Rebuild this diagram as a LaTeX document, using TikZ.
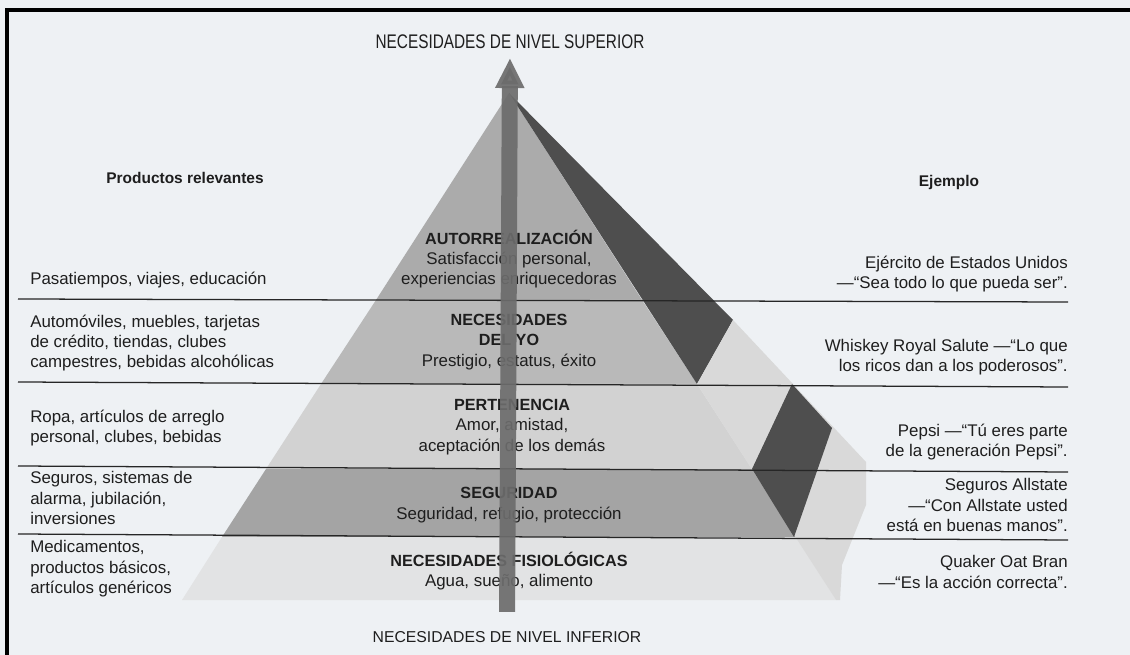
\documentclass[tikz,border=0pt]{standalone}
\usepackage{fontspec}
\setmainfont{Liberation Sans}
\usepackage{graphicx}
\usetikzlibrary{arrows.meta}

\definecolor{paper}{HTML}{EEF1F4}
\definecolor{ink}{HTML}{1E1E1E}
\definecolor{levA}{HTML}{ABABAB}
\definecolor{levB}{HTML}{B9B9B9}
\definecolor{levC}{HTML}{D2D2D2}
\definecolor{levD}{HTML}{A4A4A4}
\definecolor{levE}{HTML}{E2E3E4}
\definecolor{darkface}{HTML}{4E4E4E}
\definecolor{lightface}{HTML}{D9D9D9}
\definecolor{shaftgray}{HTML}{6C6C6C}

\begin{document}
\begin{tikzpicture}[x=0.025cm,y=-0.025cm,
    every node/.style={text=ink,inner sep=0pt,font=\fontsize{12}{14.5}\selectfont},
    lft/.style={anchor=west,align=left},
    rgt/.style={anchor=east,align=right},
    lvl/.style={align=center},
    hdr/.style={font=\fontsize{11}{14}\selectfont\bfseries},
    sep/.style={line width=0.9pt,black!85},
    rise/.style={line width=0.4cm,shaftgray,opacity=0.92,
        -{Triangle[length=0.75cm,width=0.68cm]}}]
    \fill[paper] (0,0) rectangle (1130,655);
    \useasboundingbox (0,0) rectangle (1130,655);

    % frame
    \draw[line width=2.2pt] (7,655) -- (7,10) -- (1130,10);

    % pyramid, front face
    \fill[levA] (509,93) -- (642,300) -- (376,300) -- cycle;
    \fill[levB] (376,300) -- (642,300) -- (697,384) -- (321,384) -- cycle;
    \fill[levC] (321,384) -- (697,384) -- (752,469) -- (266,469) -- cycle;
    \fill[levD] (266,469) -- (752,469) -- (796,537) -- (222,537) -- cycle;
    \fill[levE] (222,537) -- (796,537) -- (836,600) -- (182,600) -- cycle;

    % pyramid, right face
    \fill[darkface] (509,93) -- (733,320) -- (697,384) -- cycle;
    \fill[lightface] (733,320) -- (793,384) -- (697,384) -- cycle;
    \fill[lightface] (697,384) -- (793,384) -- (866,462) -- (866,505)
        -- (842,565) -- (840,600) -- (836,600) -- cycle;
    \fill[darkface] (792,384) -- (832,428) -- (794,537) -- (752,469) -- cycle;

    % separators
    \draw[sep] (18,299) -- (1068,302);
    \draw[sep] (18,382) -- (1068,387);
    \draw[sep] (18,466) -- (1068,472);
    \draw[sep] (18,534) -- (1068,540);

    % top and bottom
    \node (sup) at (510,42) {\scalebox{0.78}[1]{\fontsize{14}{14}\selectfont NECESIDADES DE NIVEL SUPERIOR}};
    \node[font=\fontsize{11.2}{14}\selectfont] (inf) at (507,637) {NECESIDADES DE NIVEL INFERIOR};

    % column heads
    \node[hdr] (prod) at (185,178) {Productos relevantes};
    \node[hdr] (ejem) at (949,183) {Ejemplo};

    % products
    \node[lft] (p1) at (30,280) {Pasatiempos, viajes, educación};
    \node[lft] (p2) at (30,343) {Automóviles, muebles, tarjetas\\de crédito, tiendas, clubes\\campestres, bebidas alcohólicas};
    \node[lft] (p3) at (30,428) {Ropa, artículos de arreglo\\personal, clubes, bebidas};
    \node[lft] (p4) at (30,498) {Seguros, sistemas de\\alarma, jubilación,\\inversiones};
    \node[lft] (p5) at (30,569) {Medicamentos,\\productos básicos,\\artículos genéricos};

    % examples
    \node[rgt] (e1) at (1068,274) {Ejército de Estados Unidos\\—“Sea todo lo que pueda ser”.};
    \node[rgt] (e2) at (1068,357) {Whiskey Royal Salute —“Lo que\\los ricos dan a los poderosos”.};
    \node[rgt] (e3) at (1068,442) {Pepsi —“Tú eres parte\\de la generación Pepsi”.};
    \node[rgt] (e4) at (1068,505) {Seguros Allstate\\—“Con Allstate usted\\está en buenas manos”.};
    \node[rgt] (e5) at (1068,572) {Quaker Oat Bran\\—“Es la acción correcta”.};

    % levels
    \node[lvl] (n1) at (509,259) {\textbf{\fontsize{11.5}{14}\selectfont AUTORREALIZACIÓN}\\Satisfacción personal,\\experiencias enriquecedoras};
    \node[lvl] (n2) at (509,342) {\textbf{\fontsize{11.5}{14}\selectfont NECESIDADES}\\\textbf{\fontsize{11.5}{14}\selectfont DEL YO}\\Prestigio, estatus, éxito};
    \node[lvl] (n3) at (512,427) {\textbf{\fontsize{11.5}{14}\selectfont PERTENENCIA}\\Amor, amistad,\\aceptación de los demás};
    \node[lvl] (n4) at (509,505) {\textbf{\fontsize{11.5}{14}\selectfont SEGURIDAD}\\Seguridad, refugio, protección};
    \node[lvl] (n5) at (509,571) {\textbf{\fontsize{11.5}{14}\selectfont NECESIDADES FISIOLÓGICAS}\\Agua, sueño, alimento};

    % arrow
    \draw[rise,shorten <=0.48cm,shorten >=0.22cm] (inf.north) -- (sup.south);
\end{tikzpicture}
\end{document}
